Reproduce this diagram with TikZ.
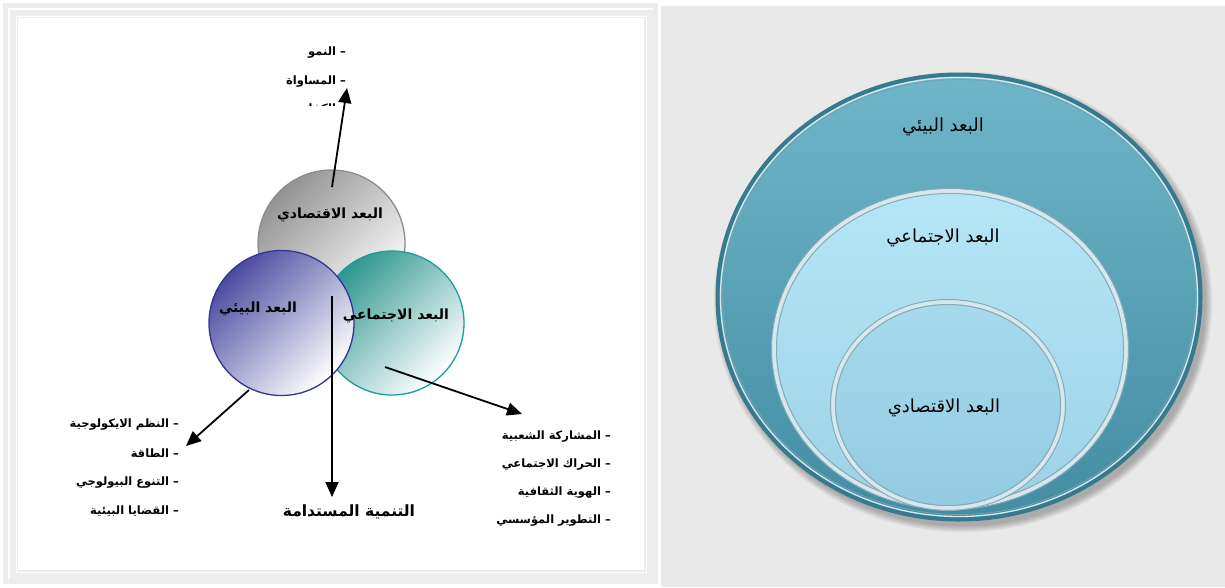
\documentclass[tikz,border=0pt]{standalone}
\usepackage{fontspec}
\usetikzlibrary{arrows.meta}
\TeXXeTstate=1
\newfontfamily\arabicfont[Script=Arabic]{DejaVu Sans}
\newcommand{\artxt}[1]{{\arabicfont\beginR #1\endR}}

\definecolor{framegray}{HTML}{EDEDED}
\definecolor{panelgray}{HTML}{E9E9E9}
\definecolor{econline}{HTML}{8C8C8C}
\definecolor{envline}{HTML}{333399}
\definecolor{socline}{HTML}{1A9E99}
\definecolor{envdark}{HTML}{4B4BA0}
\definecolor{socdark}{HTML}{2E9690}
\definecolor{econdark}{HTML}{939393}
\definecolor{outertop}{HTML}{6FB6CA}
\definecolor{outerbot}{HTML}{438CA1}
\definecolor{outerrim}{HTML}{377A8D}
\definecolor{midtop}{HTML}{B6E6F6}
\definecolor{midbot}{HTML}{9DD2E6}
\definecolor{innertop}{HTML}{A6DAEC}
\definecolor{innerbot}{HTML}{94CBE0}
\definecolor{rimwhite}{HTML}{D6E8EE}
\definecolor{rimgray}{HTML}{8AAAB5}

\tikzset{
  circlabel/.style={font=\fontsize{14}{16}\selectfont\bfseries, inner sep=0},
  listitem/.style={font=\fontsize{11.5}{13}\selectfont\bfseries, anchor=east, inner sep=0},
  ringlabel/.style={font=\fontsize{18}{20}\selectfont, inner sep=0},
  arr/.style={line width=1.8pt, -{Triangle[length=15pt,width=13pt]}},
}

\begin{document}
\begin{tikzpicture}[x=1pt,y=-1pt]
\useasboundingbox (0,0) rectangle (1225,587);
\fill[white] (0,0) rectangle (1225,587);

% ---- left panel: framed Venn diagram ----
\draw[framegray, line width=5pt] (5.5,5.5) rectangle (655,581.5);
\draw[framegray, line width=6pt] (12.5,12.5) rectangle (650,576);
\draw[framegray, line width=1.5pt] (17.5,17.5) rectangle (645,571);

% three overlapping dimensions
\shade[top color=econdark, middle color=gray!22, bottom color=white, shading angle=45]
  (331.5,243.5) circle[radius=73.5];
\draw[econline, line width=1.3pt] (331.5,243.5) circle[radius=73.5];
\shade[top color=socdark, middle color=socdark!12, bottom color=white, shading angle=45]
  (392,323) circle[radius=72];
\draw[socline, line width=1.3pt] (392,323) circle[radius=72];
\shade[top color=envdark, middle color=envdark!10, bottom color=white, shading angle=45]
  (281.5,323) circle[radius=72.5];
\draw[envline, line width=1.3pt] (281.5,323) circle[radius=72.5];

\node[circlabel] (econ) at (330,215) {\artxt{البعد الاقتصادي}};
\node[circlabel] (env)  at (258,309) {\artxt{البعد البيئي}};
\node[circlabel] (soc)  at (396,316) {\artxt{البعد الاجتماعي}};

% arrow end points
\coordinate (upS) at (332,187);
\coordinate (upT) at (347,88);
\coordinate (dlS) at (249,390);
\coordinate (dlT) at (186,446);
\coordinate (dnS) at (332,296);
\coordinate (dnT) at (332,497);
\coordinate (rtS) at (385,367);
\coordinate (rtT) at (522,414);

% economic items (the last one is cut by its text box)
\node[listitem] (e1) at (346,53) {\artxt{– النمو}};
\node[listitem] (e2) at (346,82) {\artxt{– المساواة}};
\begin{scope}
  \clip (250,97) rectangle (360,105.5);
  \node[listitem] (e3) at (346,108) {\artxt{– الكفاءة}};
\end{scope}

% environmental items
\node[listitem] (b1) at (179,425) {\artxt{– النظم الايكولوجية}};
\node[listitem] (b2) at (179,453) {\artxt{– الطاقة}};
\node[listitem] (b3) at (179,483) {\artxt{– التنوع البيولوجي}};
\node[listitem] (b4) at (179,511) {\artxt{– القضايا البيئية}};

% social items
\node[listitem] (s1) at (611,437) {\artxt{– المشاركة الشعبية}};
\node[listitem] (s2) at (611,465) {\artxt{– الحراك الاجتماعي}};
\node[listitem] (s3) at (611,493) {\artxt{– الهوية الثقافية}};
\node[listitem] (s4) at (611,521) {\artxt{– التطوير المؤسسي}};

\node[font=\fontsize{15.5}{18}\selectfont\bfseries, inner sep=0] (sd) at (349,512)
  {\artxt{التنمية المستدامة}};

\draw[arr] (upS) -- (upT);
\draw[arr] (dlS) -- (dlT);
\draw[arr] (dnS) -- (dnT);
\draw[arr] (rtS) -- (rtT);

% ---- right panel: nested dimensions ----
\fill[panelgray] (661,6) rectangle (1225,587);

% soft drop shadow
\foreach \k in {0,...,7}{
  \fill[black, opacity=0.035] (963,302) ellipse[x radius={243+\k*0.9}, y radius={224+\k*0.9}];
}
\shade[top color=outertop, bottom color=outerbot] (959,297) ellipse[x radius=243, y radius=224];
\draw[outerrim, line width=4pt] (959,297) ellipse[x radius=241.5, y radius=222.5];
\draw[white!70!outertop, line width=1.3pt] (959,297) ellipse[x radius=238.5, y radius=219.5];
\draw[outerrim!70, line width=0.8pt] (959,297) ellipse[x radius=236.5, y radius=217.5];

\shade[top color=midtop, bottom color=midbot] (950,349) ellipse[x radius=178, y radius=160];
\draw[rimgray, line width=1pt] (950,349) ellipse[x radius=178.5, y radius=160.5];
\draw[rimwhite, line width=3.5pt] (950,349) ellipse[x radius=176, y radius=158];
\draw[rimgray, line width=1pt] (950,349) ellipse[x radius=173.5, y radius=155.5];

\shade[top color=innertop, bottom color=innerbot] (948,405) ellipse[x radius=117, y radius=105];
\draw[rimgray, line width=1pt] (948,405) ellipse[x radius=117.5, y radius=105.5];
\draw[rimwhite, line width=3.5pt] (948,405) ellipse[x radius=115, y radius=103];
\draw[rimgray, line width=1pt] (948,405) ellipse[x radius=112.5, y radius=100.5];

\node[ringlabel] (r1) at (943,127) {\artxt{البعد البيئي}};
\node[ringlabel] (r2) at (943,238) {\artxt{البعد الاجتماعي}};
\node[ringlabel] (r3) at (944,408) {\artxt{البعد الاقتصادي}};
\end{tikzpicture}
\end{document}
